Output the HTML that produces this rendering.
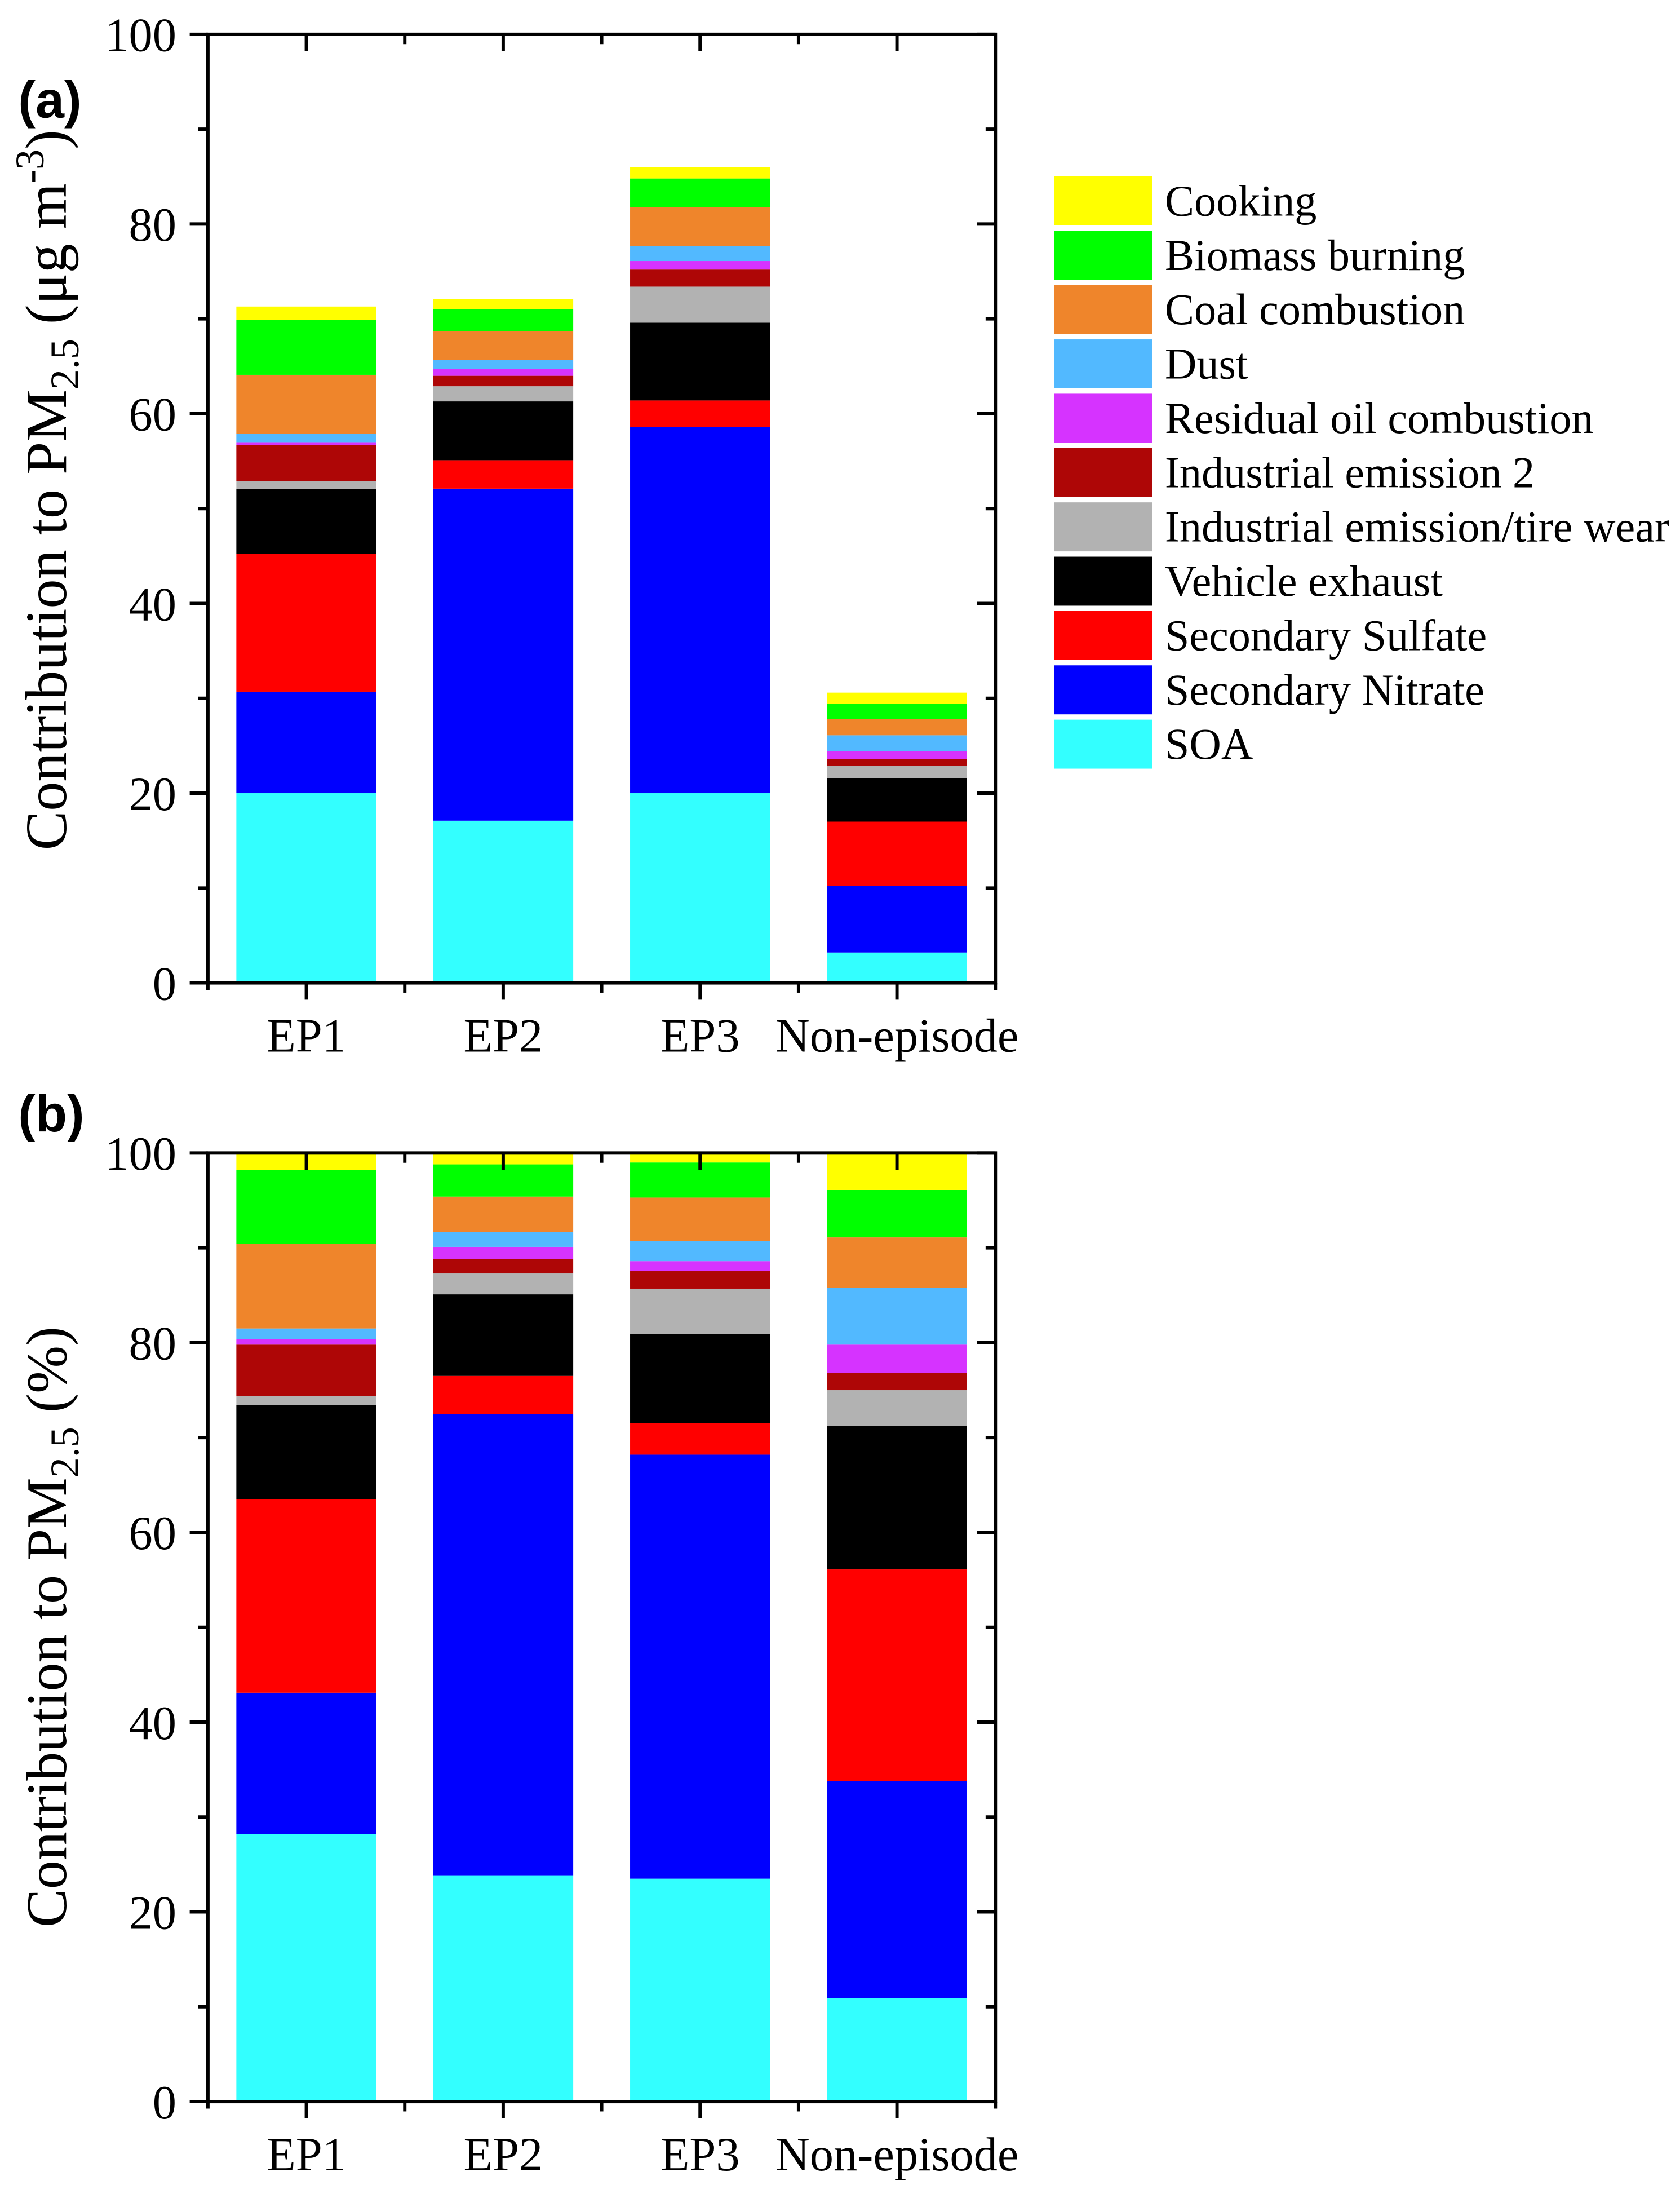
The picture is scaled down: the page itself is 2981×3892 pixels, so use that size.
<!DOCTYPE html>
<html>
<head>
<meta charset="utf-8">
<style>
html,body{margin:0;padding:0;background:#fff;}
svg{display:block;}
text{font-family:"Liberation Serif","Times New Roman",serif;fill:#000;}
.lab{font-family:"Liberation Sans",Arial,sans-serif;font-weight:bold;}
</style>
</head>
<body>
<svg id="chart" width="2981" height="3892" viewBox="0 0 1200 1567" preserveAspectRatio="none" xmlns="http://www.w3.org/2000/svg">
  <g id="panelA"></g>
  <g id="panelB"></g>
  <g id="legend"></g>
</svg>
<script>
const categories = ["EP1", "EP2", "EP3", "Non-episode"];
const sources = ["SOA", "Secondary Nitrate", "Secondary Sulfate", "Vehicle exhaust", "Industrial emission/tire wear", "Industrial emission 2", "Residual oil combustion", "Dust", "Coal combustion", "Biomass burning", "Cooking"];
const colors = ["#33FFFF", "#0000FF", "#FF0000", "#000000", "#B2B2B2", "#AE0606", "#D633FF", "#52B9FF", "#EF852B", "#00FF00", "#FFFF00"];
const yTicks = [0, 20, 40, 60, 80, 100];
// Panel (a): µg m-3, per source, per category [EP1, EP2, EP3, Non-episode]
const aSOA = [20.0, 17.1, 20.0, 3.2];
const aNitrate = [10.7, 35.0, 38.6, 7.0];
const aSulfate = [14.5, 3.0, 2.8, 6.8];
const aVehicle = [6.9, 6.2, 8.2, 4.6];
const aIndTire = [0.8, 1.6, 3.8, 1.3];
const aInd2 = [3.8, 1.1, 1.8, 0.7];
const aResidual = [0.3, 0.7, 0.9, 0.8];
const aDust = [0.9, 1.0, 1.6, 1.7];
const aCoal = [6.2, 3.0, 4.1, 1.7];
const aBiomass = [5.8, 2.3, 3.0, 1.6];
const aCooking = [1.4, 1.1, 1.2, 1.2];
// Panel (b): %
const bSOA = [28.2, 23.8, 23.5, 10.9];
const bNitrate = [14.9, 48.7, 44.7, 22.9];
const bSulfate = [20.4, 4.0, 3.3, 22.3];
const bVehicle = [9.9, 8.6, 9.4, 15.1];
const bIndTire = [1.0, 2.2, 4.8, 3.8];
const bInd2 = [5.4, 1.5, 1.9, 1.8];
const bResidual = [0.6, 1.3, 1.0, 3.0];
const bDust = [1.1, 1.6, 2.1, 6.0];
const bCoal = [8.9, 3.7, 4.6, 5.3];
const bBiomass = [7.8, 3.4, 3.7, 5.0];
const bCooking = [1.8, 1.2, 1.0, 3.9];

const seriesA = [aSOA, aNitrate, aSulfate, aVehicle, aIndTire, aInd2, aResidual, aDust, aCoal, aBiomass, aCooking];
const seriesB = [bSOA, bNitrate, bSulfate, bVehicle, bIndTire, bInd2, bResidual, bDust, bCoal, bBiomass, bCooking];

const NS = "http://www.w3.org/2000/svg";
function mk(tag, attrs, parent) {
  const e = document.createElementNS(NS, tag);
  for (const k in attrs) e.setAttribute(k, attrs[k]);
  parent.appendChild(e);
  return e;
}
function slug(s) { return s.toLowerCase().replace(/[^a-z0-9]+/g, "-").replace(/^-|-$/g, ""); }

function drawPanel(g, series, top, zero, letter, titleMain, titleSize, titleCenter, labelBaseline) {
  const left = 148.5, right = 711;
  const step = (right - left) / categories.length;
  const bw = 100;
  const xc = i => left + (i + 0.5) * step;
  const y = v => zero - (v / 100) * (zero - top);

  categories.forEach((c, i) => {
    let cum = 0;
    series.forEach((arr, s) => {
      const v = arr[i];
      const r = mk("rect", {x: xc(i) - bw / 2, y: y(cum + v), width: bw, height: y(cum) - y(cum + v), fill: colors[s]}, g);
      
      
      cum += v;
    });
  });

  const fr = mk("rect", {x: left, y: top, width: right - left, height: zero - top, fill: "none", stroke: "#000", "stroke-width": 2.4}, g);
  
  

  for (let v = 0; v <= 100; v += 10) {
    const major = v % 20 === 0;
    const len = major ? 13 : 7;
    const t1 = mk("line", {x1: left - len, x2: left, y1: y(v), y2: y(v), stroke: "#000", "stroke-width": 2.4}, g);
    
    
    const t2 = mk("line", {x1: right - len, x2: right, y1: y(v), y2: y(v), stroke: "#000", "stroke-width": 2.4}, g);
    
    
  }
  yTicks.forEach(v => {
    const t = mk("text", {x: 126, y: y(v) + 12, "text-anchor": "end", "font-size": 34}, g);
    t.textContent = v;
    
    
  });

  for (let i = 0; i <= categories.length; i++) {
    const xb = left + i * step;
    if (i > 0 && i < categories.length) {
      const m1 = mk("line", {x1: xb, x2: xb, y1: zero, y2: zero + 7, stroke: "#000", "stroke-width": 2.4}, g);
      
      
      const m2 = mk("line", {x1: xb, x2: xb, y1: top, y2: top + 7, stroke: "#000", "stroke-width": 2.4}, g);
      
      
    } else {
      const m3 = mk("line", {x1: xb, x2: xb, y1: zero, y2: zero + 5, stroke: "#000", "stroke-width": 2.4}, g);
      
      
    }
  }
  categories.forEach((c, i) => {
    const a = mk("line", {x1: xc(i), x2: xc(i), y1: zero, y2: zero + 12, stroke: "#000", "stroke-width": 2.4}, g);
    
    
    const b = mk("line", {x1: xc(i), x2: xc(i), y1: top, y2: top + 12, stroke: "#000", "stroke-width": 2.4}, g);
    
    
    const t = mk("text", {x: xc(i), y: zero + 49, "text-anchor": "middle", "font-size": 34}, g);
    t.textContent = c;
    
    
  });

  const pl = mk("text", {x: 13, y: labelBaseline, "font-size": 37, class: "lab"}, g);
  pl.textContent = letter;
  
  

  const tt = mk("text", {x: 0, y: 0, "text-anchor": "middle", "font-size": titleSize, transform: "translate(47," + titleCenter + ") rotate(-90)"}, g);
  
  
  tt.innerHTML = titleMain;
}

drawPanel(document.getElementById("panelA"), seriesA, 24.5, 702, "(a)",
  'Contribution to PM<tspan font-size="29" dy="9">2.5</tspan><tspan dy="-9"> (μg m</tspan><tspan font-size="29" dy="-16">-3</tspan><tspan dy="16">)</tspan>', 42, 350, 84);
drawPanel(document.getElementById("panelB"), seriesB, 823.5, 1501, "(b)",
  'Contribution to PM<tspan font-size="29" dy="9">2.5</tspan><tspan dy="-9"> (%)</tspan>', 41, 1162, 808);

const lg = document.getElementById("legend");
for (let k = 0; k < sources.length; k++) {
  const s = sources.length - 1 - k;
  const yy = 126 + k * 38.8;
  const sw = mk("rect", {x: 753, y: yy, width: 70, height: 35, fill: colors[s]}, lg);
  
  
  const t = mk("text", {x: 832, y: yy + 28, "font-size": 31.5}, lg);
  t.textContent = sources[s];
  
  
}
</script>
</body>
</html>
